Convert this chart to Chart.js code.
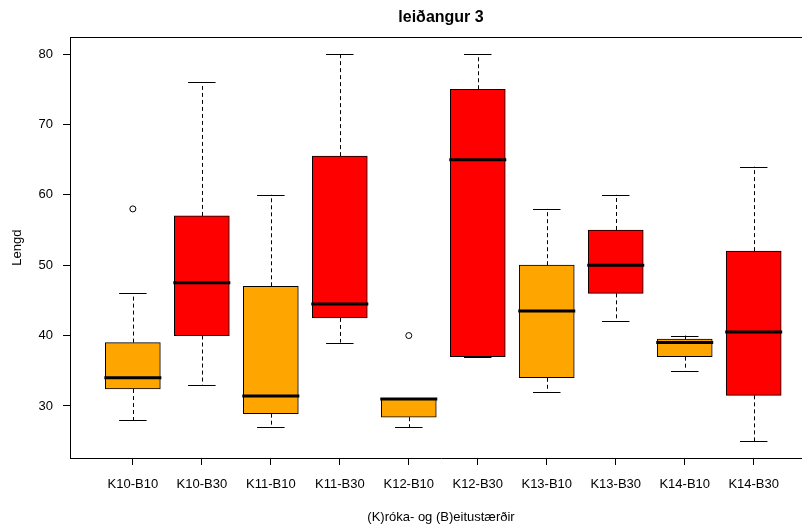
<!DOCTYPE html>
<html>
<head>
<meta charset="utf-8">
<script src="https://cdn.jsdelivr.net/npm/chart.js@4.4.1/dist/chart.umd.min.js"></script>
<style>
  html, body { margin: 0; padding: 0; background: #fff; overflow: hidden; }
  #wrap { width: 802px; height: 527px; overflow: hidden; }
  canvas { display: block; }
</style>
</head>
<body>
<div id="wrap"><canvas id="c" width="812" height="527"></canvas></div>
<script>
// ---- data ----
const categories  = ['K10-B10','K10-B30','K11-B10','K11-B30','K12-B10','K12-B30','K13-B10','K13-B30','K14-B10','K14-B30'];
const whiskerLow  = [28, 33, 27, 39, 27, 37, 32, 42, 35, 25];
const q1          = [32.4, 40, 28.9, 42.5, 28.4, 37, 34, 46, 37, 31.5];
const medians     = [34, 47.5, 31.4, 44.5, 31, 65, 43.5, 50, 39, 40.5];
const q3          = [39, 57, 47, 65.5, 31, 75, 50, 55, 39.5, 52];
const whiskerHigh = [46, 76, 60, 80, 31, 80, 58, 60, 40, 64];
const outliers    = [[58], [], [], [], [40], [], [], [], [], []];
const yTicks      = [30, 40, 50, 60, 70, 80];

const FONT = "'Liberation Sans', Arial, Helvetica, sans-serif";
Chart.defaults.font.family = FONT;
Chart.defaults.color = '#000';

const BOX_W = 55;
const boxColor = c => c.endsWith('B10') ? '#FFA500' : '#FF0000';

const boxData = categories.map((c, i) => ({ x: i + 1, y: [q1[i], q3[i]] }));
const outlierData = [];
outliers.forEach((arr, i) => arr.forEach(v => outlierData.push({ x: i + 1, y: v })));

const boxPlugin = {
  id: 'boxExtras',
  afterDatasetsDraw(chart) {
    const ctx = chart.ctx, xs = chart.scales.x, ys = chart.scales.y;
    const ca = chart.chartArea;
    ctx.save();
    // top edge of the plot frame (the frame runs past the right edge of the picture)
    ctx.strokeStyle = '#000';
    ctx.lineWidth = 1;
    ctx.beginPath();
    ctx.moveTo(ca.left, Math.round(ca.top) + 0.5);
    ctx.lineTo(ca.right, Math.round(ca.top) + 0.5);
    ctx.stroke();
    categories.forEach((c, i) => {
      const x = xs.getPixelForValue(i + 1);
      const xc = Math.round(x) + 0.5;
      const yLo = ys.getPixelForValue(whiskerLow[i]);
      const yQ1 = ys.getPixelForValue(q1[i]);
      const yQ3 = ys.getPixelForValue(q3[i]);
      const yHi = ys.getPixelForValue(whiskerHigh[i]);
      const yMed = ys.getPixelForValue(medians[i]);
      // dashed whiskers
      ctx.lineWidth = 1;
      ctx.strokeStyle = '#000';
      ctx.setLineDash([4, 3]);
      ctx.beginPath();
      if (yHi < yQ3 - 0.5) { ctx.moveTo(xc, yQ3); ctx.lineTo(xc, yHi); }
      if (yLo > yQ1 + 0.5) { ctx.moveTo(xc, yQ1); ctx.lineTo(xc, yLo); }
      ctx.stroke();
      ctx.setLineDash([]);
      // whisker caps
      ctx.beginPath();
      ctx.moveTo(x - BOX_W / 4, Math.round(yHi) + 0.5); ctx.lineTo(x + BOX_W / 4, Math.round(yHi) + 0.5);
      ctx.moveTo(x - BOX_W / 4, Math.round(yLo) + 0.5); ctx.lineTo(x + BOX_W / 4, Math.round(yLo) + 0.5);
      ctx.stroke();
      // median
      ctx.lineWidth = 3;
      ctx.beginPath();
      ctx.moveTo(x - BOX_W / 2 - 1, yMed); ctx.lineTo(x + BOX_W / 2 + 1, yMed);
      ctx.stroke();
    });
    ctx.restore();
  }
};

new Chart(document.getElementById('c'), {
  type: 'bar',
  data: {
    datasets: [
      {
        type: 'bar',
        data: boxData,
        backgroundColor: categories.map(boxColor),
        borderColor: '#000',
        borderWidth: 1,
        borderSkipped: false,
        barThickness: BOX_W,
        order: 2
      },
      {
        type: 'scatter',
        data: outlierData,
        pointStyle: 'circle',
        pointRadius: 3,
        pointBackgroundColor: 'rgba(255,255,255,0)',
        pointBorderColor: '#000',
        pointBorderWidth: 1,
        order: 1
      }
    ]
  },
  options: {
    responsive: false,
    animation: false,
    events: [],
    layout: { padding: 0, autoPadding: false },
    plugins: {
      legend: { display: false },
      tooltip: { enabled: false },
      title: {
        display: true,
        text: 'leiðangur 3',
        fullSize: false,
        color: '#000',
        font: { family: FONT, size: 16, weight: 'bold' },
        padding: { top: 8, bottom: 10 }
      }
    },
    scales: {
      x: {
        type: 'linear',
        position: 'bottom',
        offset: false,
        min: 0.089,
        max: 10.845,
        afterBuildTicks: s => { s.ticks = categories.map((c, i) => ({ value: i + 1 })); },
        afterFit: s => { s.height = 69; s.paddingLeft = 0; s.paddingRight = 0; },
        ticks: {
          autoSkip: false,
          maxRotation: 0,
          padding: 12,
          color: '#000',
          font: { family: FONT, size: 13 },
          callback: v => categories[v - 1]
        },
        grid: { display: true, offset: false, drawOnChartArea: false, drawTicks: true, tickLength: 7, tickColor: '#000', color: '#000' },
        border: { display: true, color: '#000', width: 1 },
        title: {
          display: true,
          text: '(K)róka- og (B)eitustærðir',
          color: '#000',
          font: { family: FONT, size: 13 },
          padding: { top: 0, bottom: 2 }
        }
      },
      y: {
        type: 'linear',
        position: 'left',
        min: 22.6,
        max: 82.4,
        afterBuildTicks: s => { s.ticks = yTicks.map(v => ({ value: v })); },
        afterFit: s => { s.width = 70; },
        ticks: {
          padding: 10,
          color: '#000',
          font: { family: FONT, size: 13 }
        },
        grid: { display: true, drawOnChartArea: false, drawTicks: true, tickLength: 7, tickColor: '#000', color: '#000' },
        border: { display: true, color: '#000', width: 1 },
        title: {
          display: true,
          text: 'Lengd',
          color: '#000',
          font: { family: FONT, size: 13 },
          padding: { top: 10, bottom: 0 }
        }
      }
    }
  },
  plugins: [boxPlugin]
});
</script>
</body>
</html>
